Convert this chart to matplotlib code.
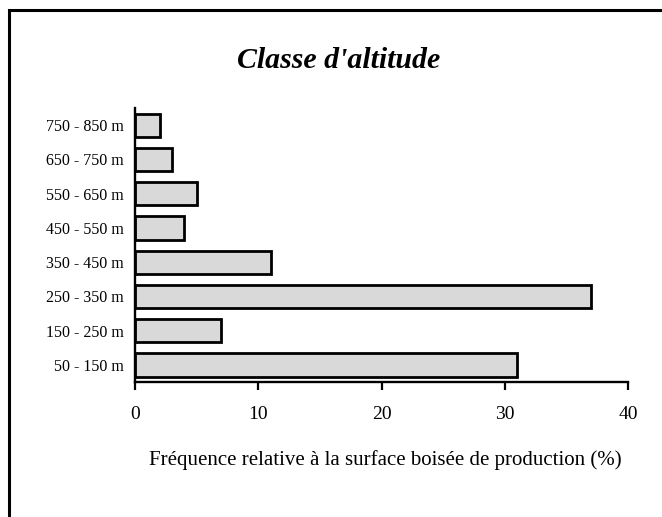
import matplotlib
matplotlib.use('Agg')
import matplotlib.pyplot as plt
from matplotlib.patches import Rectangle

# altitude classes (bottom to top) and relative frequency (%)
classes = ['50 - 150 m', '150 - 250 m', '250 - 350 m', '350 - 450 m',
           '450 - 550 m', '550 - 650 m', '650 - 750 m', '750 - 850 m']
freq = [31, 7, 37, 11, 4, 5, 3, 2]
xticks = [0, 10, 20, 30, 40]

plt.rcParams['font.family'] = ['Liberation Serif', 'DejaVu Serif']

fig = plt.figure(figsize=(6.62, 5.17), dpi=100)
ax = fig.add_axes([0.204, 0.261, 0.745, 0.530])

ax.barh(range(len(classes)), freq, height=0.68, color='#d9d9d9',
        edgecolor='black', linewidth=2.0)

ax.set_ylim(-0.5, len(classes) - 0.5)
ax.set_xlim(0, 40)
ax.set_yticks(range(len(classes)))
ax.set_yticklabels(classes, fontsize=11.5)
ax.tick_params(axis='y', length=0, pad=8)
ax.set_xticks(xticks)
ax.set_xticklabels([str(t) for t in xticks], fontsize=14)
ax.tick_params(axis='x', direction='out', length=6, width=1.6, pad=11)

for s in ['top', 'right']:
    ax.spines[s].set_visible(False)
for s in ['left', 'bottom']:
    ax.spines[s].set_linewidth(1.7)

ax.set_xlabel('Fréquence relative à la surface boisée de production (%)',
              fontsize=15)
ax.xaxis.set_label_coords(385 / 662, 1 - 460 / 517, transform=fig.transFigure)
ax.xaxis.label.set_va('center')

fig.text(0.512, 1 - 60 / 517, "Classe d'altitude", ha='center', va='center',
         fontsize=21.5, fontweight='bold', fontstyle='italic')

# outer frame (only left and top edges fall inside the picture)
fig.patches.append(Rectangle((9 / 662, -0.1), 1.2, 1 - 10 / 517 + 0.1,
                             transform=fig.transFigure, fill=False,
                             edgecolor='black', linewidth=2.2))

fig.savefig('out.png', dpi=100)
